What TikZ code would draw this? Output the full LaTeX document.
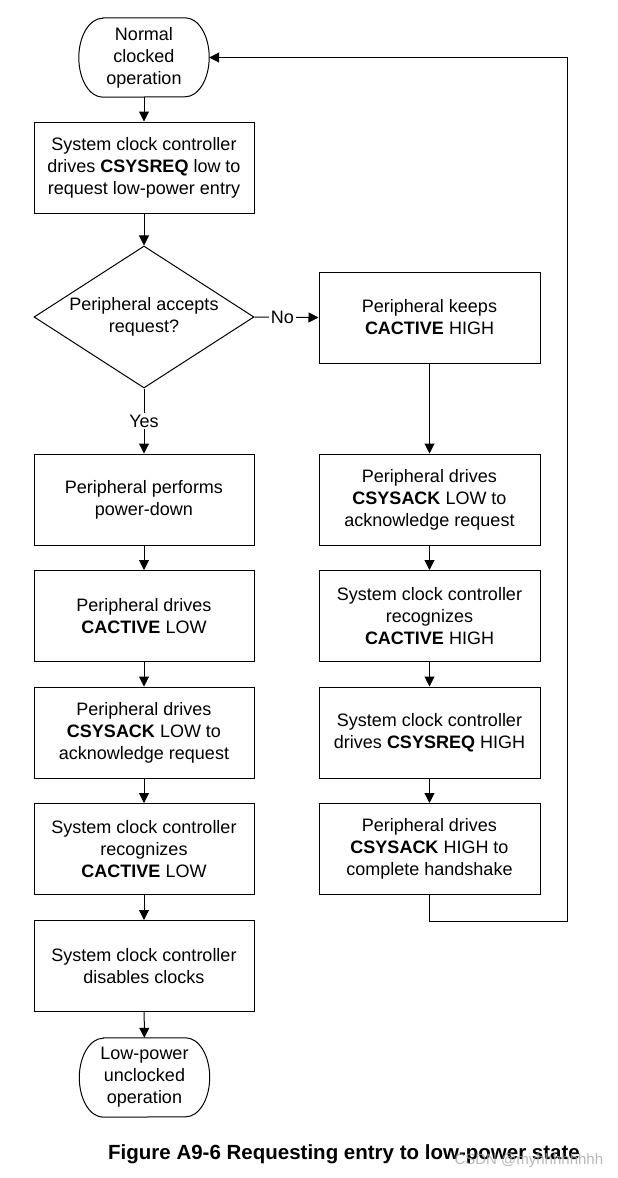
\documentclass[tikz,border=0pt]{standalone}
\usepackage{fontspec}
\setmainfont{Liberation Sans}
\usetikzlibrary{shapes.geometric,arrows.meta}
\begin{document}
\begin{tikzpicture}[x=1pt,y=1pt,
  every node/.style={font=\fontsize{18}{22}\selectfont},
  stepbox/.style={draw, line width=1pt, minimum width=220pt, minimum height=91pt, align=center, inner sep=2pt},
  termbox/.style={minimum width=130pt, minimum height=79pt, align=center, inner sep=0pt},
  decbox/.style={draw, line width=1pt, diamond, aspect=1.55, minimum width=220pt, minimum height=142pt, align=center, inner sep=0pt},
  flow/.style={line width=1pt, -{Triangle[length=10pt,width=10pt]}},
  lbl/.style={fill=white, inner sep=1.5pt}
]
\useasboundingbox (0,0) rectangle (618,-1178);

\node[termbox] (start) at (144,-57.5) {Normal\\clocked\\operation};
\node[stepbox] (b1) at (144,-167.5) {System clock controller\\drives \textbf{CSYSREQ} low to\\request low-power entry};
\node[decbox] (dec) at (144,-317) {Peripheral accepts\\request?};
\node[stepbox, minimum width=221pt] (r1) at (429.5,-317.5) {Peripheral keeps\\\textbf{CACTIVE} HIGH};
\node[stepbox] (b2) at (144,-499.5) {Peripheral performs\\power-down};
\node[stepbox] (b3) at (144,-616) {Peripheral drives\\\textbf{CACTIVE} LOW};
\node[stepbox] (b4) at (144,-732.5) {Peripheral drives\\\textbf{CSYSACK} LOW to\\acknowledge request};
\node[stepbox] (b5) at (144,-849) {System clock controller\\recognizes\\\textbf{CACTIVE} LOW};
\node[stepbox] (b6) at (144,-966) {System clock controller\\disables clocks};
\node[termbox] (end) at (144.5,-1077.5) {Low-power\\unclocked\\operation};

\node[stepbox, minimum width=221pt] (r2) at (429.5,-499.5) {Peripheral drives\\\textbf{CSYSACK} LOW to\\acknowledge request};
\node[stepbox, minimum width=221pt] (r3) at (429.5,-616) {System clock controller\\recognizes\\\textbf{CACTIVE} HIGH};
\node[stepbox, minimum width=221pt] (r4) at (429.5,-732.5) {System clock controller\\drives \textbf{CSYSREQ} HIGH};
\node[stepbox, minimum width=221pt] (r5) at (429.5,-849) {Peripheral drives\\\textbf{CSYSACK} HIGH to\\complete handshake};

% terminal outlines (elliptical ends)
\foreach \t in {start,end}{
  \draw[line width=1pt] ([xshift=24pt]\t.north west) -- ([xshift=-24pt]\t.north east)
    arc[start angle=90, end angle=-90, x radius=24pt, y radius=39.5pt]
    -- ([xshift=24pt]\t.south west)
    arc[start angle=270, end angle=90, x radius=24pt, y radius=39.5pt] -- cycle;
}

\draw[flow] (start) -- (b1);
\draw[flow] (b1) -- (dec);
\draw[flow] (dec.east) -- node[lbl, xshift=-4pt] {No} (r1.west);
\draw[flow] (dec.south) -- node[lbl] {Yes} (b2.north);
\draw[flow] (b2) -- (b3);
\draw[flow] (b3) -- (b4);
\draw[flow] (b4) -- (b5);
\draw[flow] (b5) -- (b6);
\draw[flow] (b6) -- (end);
\draw[flow] (r1) -- (r2);
\draw[flow] (r2) -- (r3);
\draw[flow] (r3) -- (r4);
\draw[flow] (r4) -- (r5);

\coordinate (c1) at (r5.south |- 0,-921);
\coordinate (c2) at (567,-921);
\coordinate (c3) at (567,-57.5);
\draw[flow] (r5.south) -- (c1) -- (c2) -- (c3) -- (start.east);

\node[font=\fontsize{20.5}{24}\selectfont\bfseries] (cap) at (344,-1154) {Figure A9-6 Requesting entry to low-power state};
\node[font=\fontsize{15}{18}\selectfont, text=black!35, opacity=0.8, anchor=west] (wm) at (451,-1161) {CSDN @myhhhhhhhh};
\end{tikzpicture}
\end{document}
